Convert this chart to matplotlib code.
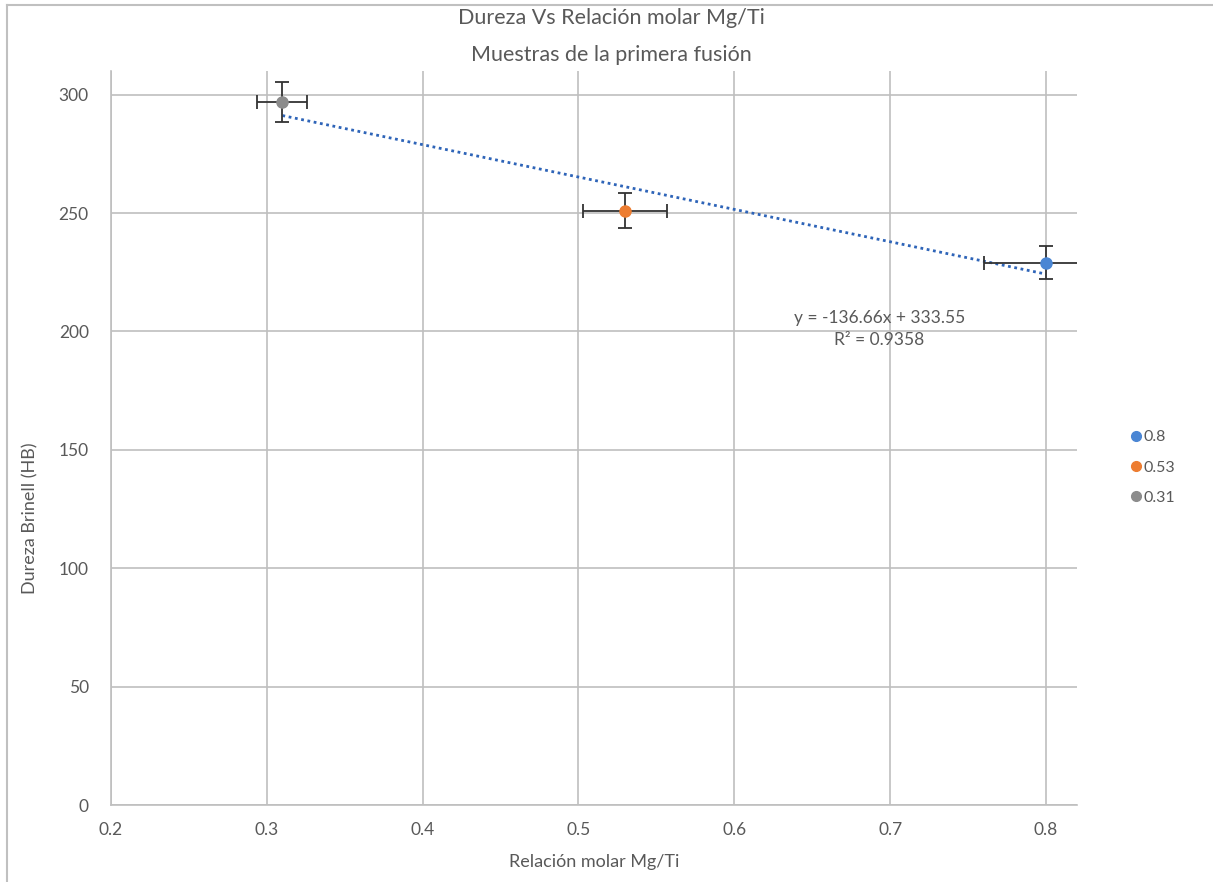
import matplotlib.pyplot as plt
from matplotlib.lines import Line2D

plt.rcParams["font.family"] = ["Lato", "DejaVu Sans"]

# datos
relacion = [0.8, 0.53, 0.31]
dureza = [229, 251, 297]
err_dureza = [7, 7.5, 8.5]
err_relacion = [0.04, 0.027, 0.016]
etiquetas = ["0.8", "0.53", "0.31"]
colores = ["#4a86d4", "#ed7d31", "#8c8c8c"]

pendiente = -136.66
intercepto = 333.55
r2 = 0.9358

gris = "#595959"

fig = plt.figure(figsize=(12.13, 8.82), dpi=100)
ax = fig.add_axes([0.0915, 0.0873, 0.7965, 0.8322])

# marco del area del grafico
fig.add_artist(Line2D([7 / 1213, 1], [1 - 5 / 882, 1 - 5 / 882], transform=fig.transFigure, color="#c0c0c0", lw=1.5))
fig.add_artist(Line2D([7 / 1213, 7 / 1213], [0, 1 - 5 / 882], transform=fig.transFigure, color="#c0c0c0", lw=1.5))

for x, y, ey, ex, c in zip(relacion, dureza, err_dureza, err_relacion, colores):
    ax.errorbar(x, y, yerr=ey, xerr=ex, fmt="none", ecolor="#333333", elinewidth=1.3, capsize=5, capthick=1.3, zorder=3)
    ax.plot(x, y, "o", color=c, markersize=8, zorder=4)

# linea de tendencia
xt = [min(relacion), max(relacion)]
yt = [pendiente * v + intercepto for v in xt]
ax.plot(xt, yt, linestyle=(0, (1, 1.3)), color="#2e64b8", lw=2, zorder=2)

ax.text(0.693, 205.7, "y = -136.66x + 333.55", ha="center", va="center", fontsize=12.5, color=gris)
ax.text(0.693, 196.4, "R² = 0.%d" % round(r2 * 10000), ha="center", va="center", fontsize=12.5, color=gris)

ax.set_xlim(0.2, 0.82)
ax.set_ylim(0, 310)
ax.set_xticks([0.2, 0.3, 0.4, 0.5, 0.6, 0.7, 0.8])
ax.set_yticks([0, 50, 100, 150, 200, 250, 300])
ax.grid(True, color="#bfbfbf", lw=1.2)
ax.set_axisbelow(True)
for s in ["top", "right"]:
    ax.spines[s].set_visible(False)
for s in ["left", "bottom"]:
    ax.spines[s].set_color("#bfbfbf")
    ax.spines[s].set_linewidth(1.2)
ax.tick_params(length=0, labelsize=12.5, colors=gris, pad=12)
ax.tick_params(axis="y", pad=16)

ax.set_xlabel("Relación molar Mg/Ti", fontsize=13, color=gris, labelpad=12)
ax.set_ylabel("Dureza Brinell (HB)", fontsize=13, color=gris)
ax.yaxis.set_label_coords(-0.075, 0.391)
fig.text(0.504, 0.9796, "Dureza Vs Relación molar Mg/Ti", ha="center", va="center", fontsize=15.5, color=gris)
fig.text(0.504, 0.9376, "Muestras de la primera fusión", ha="center", va="center", fontsize=15.5, color=gris)

handles = [Line2D([], [], marker="o", linestyle="none", color=c, markersize=7) for c in colores]
fig.legend(handles, etiquetas, loc="center left", bbox_to_anchor=(0.918, 0.47), frameon=False,
           fontsize=11.5, labelcolor=gris, handletextpad=0.0, labelspacing=1.0, handlelength=1.0)

fig.savefig("out.png", dpi=100)
